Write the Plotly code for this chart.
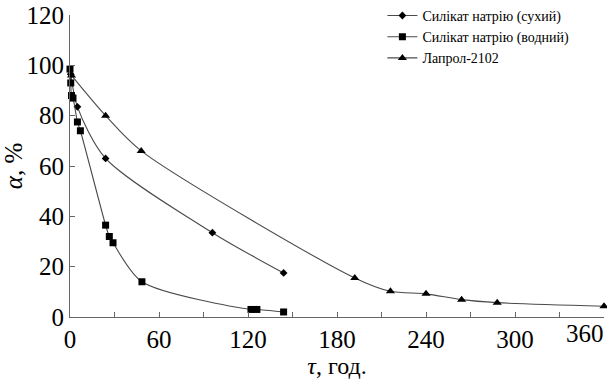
import plotly.graph_objects as go

# Data
dry_t = [0.5, 5, 24, 96, 144]
dry_a = [96.5, 83.5, 63, 33.5, 17.5]

water_t = [0, 0.5, 1, 2, 5, 7, 24, 26.5, 29, 48.5, 122, 126, 144]
water_a = [98.5, 93, 88, 87, 77.5, 74, 36.5, 32, 29.5, 14, 3, 3, 2]

lap_t = [1, 24, 48, 192, 216, 240, 264, 288, 360]
lap_a = [96, 80, 66, 15.5, 10.2, 9.2, 6.9, 5.7, 4.3]

names = ["Силікат натрію (сухий)", "Силікат натрію (водний)", "Лапрол-2102"]
x_tick_vals = [0, 60, 120, 180, 240, 300, 360]
y_tick_vals = [0, 20, 40, 60, 80, 100, 120]

FONT = '"Liberation Serif"'
LINE = "#4a4a4a"

fig = go.Figure()
series = [
    (dry_t, dry_a, "diamond", 6),
    (water_t, water_a, "square", 7),
    (lap_t, lap_a, "triangle-up", 8),
]
for (t, a, sym, sz), nm in zip(series, names):
    fig.add_trace(go.Scatter(
        x=t, y=a, name=nm, mode="lines+markers",
        line=dict(color=LINE, width=1.1, shape="spline", smoothing=0.8),
        marker=dict(symbol=sym, size=sz, color="black"),
        cliponaxis=False,
    ))

# last x tick label sits left of its tick, as in the reference
fig.add_annotation(
    x=x_tick_vals[-1], xref="x", y=0, yref="paper", text=str(x_tick_vals[-1]),
    showarrow=False, xanchor="right", yanchor="top", xshift=2, yshift=-1,
    font=dict(family=FONT, size=25, color="black"),
)

fig.update_layout(
    width=607, height=379,
    margin=dict(l=70, r=3, t=15, b=62, autoexpand=False),
    paper_bgcolor="white", plot_bgcolor="white",
    showlegend=True,
    legend=dict(
        x=0.585, y=1.05, xanchor="left", yanchor="top",
        font=dict(family=FONT, size=14, color="black"),
        bgcolor="rgba(0,0,0,0)", itemwidth=30, tracegroupgap=0,
    ),
)
fig.update_xaxes(
    range=[0, 360], tickvals=x_tick_vals,
    ticktext=[str(v) for v in x_tick_vals[:-1]] + [""],
    showgrid=False, zeroline=False, showline=True, linecolor="#666", linewidth=1,
    ticks="inside", ticklen=5, tickcolor="#666",
    minor=dict(dtick=30, tick0=0, ticks="inside", ticklen=5, tickcolor="#666", showgrid=False),
    tickfont=dict(family=FONT, size=25, color="black"),
    automargin=False,
    title=dict(text="<i>τ</i>, год.", font=dict(family=FONT, size=24, color="black"), standoff=2),
)
fig.update_yaxes(
    range=[0, 120], tickvals=y_tick_vals, ticktext=[str(v) for v in y_tick_vals],
    showgrid=False, zeroline=False, showline=True, linecolor="#666", linewidth=1,
    ticks="inside", ticklen=5, tickcolor="#666",
    tickfont=dict(family=FONT, size=25, color="black"),
    automargin=False, ticklabeloverflow="allow",
    title=dict(text="<i>α</i>, %", font=dict(family=FONT, size=25, color="black"), standoff=2),
)

fig.write_html(
    "out.html",
    config={"displayModeBar": False},
    post_script="document.body.style.margin='0';document.body.style.overflow='hidden';",
)
